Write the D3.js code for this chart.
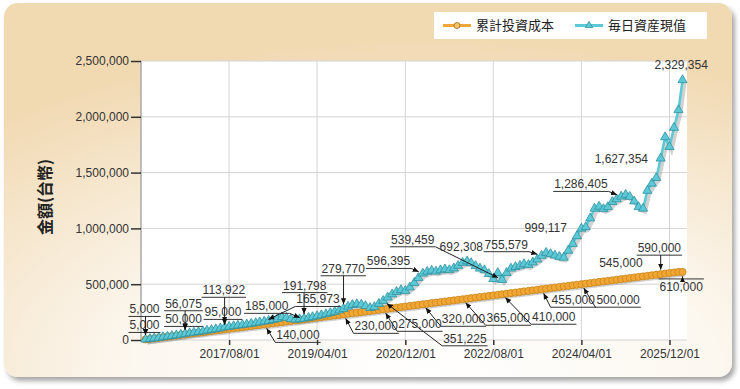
<!DOCTYPE html>
<html>
<head>
<meta charset="utf-8">
<script src="https://cdn.jsdelivr.net/npm/d3@7"></script>
<style>
body { margin: 0; background: #fff; }
svg { display: block; font-family: "Liberation Sans", Arial, sans-serif; }
</style>
</head>
<body>
<div id="chart"></div>
<script>
const seriesNames = ["累計投資成本", "毎日資産現值"];
const yTitle = "金額(台幣)";

// one point per month, first and last month of the record
const firstMonth = "2016-01-01";
const lastMonth = "2026-03-01";

const costValues = [
    5000, 10000, 15000, 20000, 25000, 30000, 35000, 40000, 45000, 50000,
    55000, 60000, 65000, 70000, 75000, 80000, 85000, 90000, 95000, 100000,
    105000, 110000, 115000, 120000, 125000, 130000, 135000, 140000, 145000, 150000,
    155000, 160000, 165000, 170000, 175000, 180000, 185000, 190000, 195000, 200000,
    205000, 210000, 215000, 220000, 225000, 230000, 235000, 240000, 245000, 250000,
    255000, 260000, 265000, 270000, 275000, 280000, 285000, 290000, 295000, 300000,
    305000, 310000, 315000, 320000, 325000, 330000, 335000, 340000, 345000, 350000,
    355000, 360000, 365000, 370000, 375000, 380000, 385000, 390000, 395000, 400000,
    405000, 410000, 415000, 420000, 425000, 430000, 435000, 440000, 445000, 450000,
    455000, 460000, 465000, 470000, 475000, 480000, 485000, 490000, 495000, 500000,
    505000, 510000, 515000, 520000, 525000, 530000, 535000, 540000, 545000, 550000,
    555000, 560000, 565000, 570000, 575000, 580000, 585000, 590000, 595000, 600000,
    605000, 610000, 610000
];

const assetValues = [
    5000, 10100, 15300, 20700, 26000, 31500, 36800, 42500, 49000, 56075,
    61500, 67200, 72800, 78500, 84600, 90800, 97500, 105000, 113922, 119500,
    125000, 130500, 135000, 140500, 146500, 152500, 159000, 165973, 172000, 180000,
    190000, 205000, 200000, 188000, 182000, 187000, 191798, 199000, 206000, 214000,
    223000, 232000, 242000, 253000, 266000, 279770, 300000, 315000, 322000, 318000,
    305000, 288000, 296000, 325000, 351225, 382000, 410000, 432000, 448000, 441000,
    472000, 512000, 556000, 596395, 612000, 622000, 614000, 626000, 634000, 627000,
    642000, 666000, 692308, 706000, 690000, 664000, 641000, 626000, 592000, 547000,
    601000, 539459, 602000, 641000, 655000, 666000, 681000, 674000, 696000, 722000,
    755579, 782000, 771000, 758000, 746000, 739000, 801000, 862000, 931000, 999117,
    1012000, 1091000, 1178000, 1196000, 1174000, 1192000, 1238000, 1262000, 1286405, 1302000,
    1284000, 1243000, 1192000, 1178000, 1338000, 1402000, 1452000, 1627354, 1818000, 1731000,
    1902000, 2061000, 2329354
];

const xTickLabels = ["2017/08/01", "2019/04/01", "2020/12/01", "2022/08/01", "2024/04/01", "2025/12/01"];
const yTickValues = [0, 500000, 1000000, 1500000, 2000000, 2500000];

// points that carry a value label
const labelIdx = [0, 9, 18, 27, 36, 45, 54, 63, 72, 81, 90, 99, 108, 117, 122];

// label placement: [dx, dy, leader] relative to the point (text left / baseline)
const costLabelPos = [
    [-16, -10, "auto"], [-20, -11, "auto"], [-20, -13, "auto"], [12, 15, "auto"],
    [-59, -9, "auto"], [11, 16, "auto"], [15, 19, "auto"], [19, 19, "auto"],
    [24, 23, "auto"], [30, 27, "auto"], [10, 15, "auto"], [15, 20, "auto"],
    [-22, -12, "none"], [-23, -22, "auto"], [-23, 19, "over"]
];
const assetLabelPos = [
    [-16, -26, "auto"], [-20, -26, "auto"], [-22, -33, "auto"], [32, -18, "auto"],
    [-21, -29, "auto"], [-22, -36, "auto"], [60, 42, "auto"], [-56, -8, "auto"],
    [-23, -12, "none"], [-111, -36, "auto"], [-57, -7, "auto"], [-57, 4, "none"],
    [-67, -8, "auto"], [-66, 5, "none"], [-28, -11, "none"]
];

const cfg = {
    width: 740,
    height: 389,
    left: 141, right: 687, top: 61, bottom: 340,
    costColor: "#f2a633",
    costStroke: "#c7861f",
    assetColor: "#5cc9d6",
    assetStroke: "#2f8f9e"
};

const parse = d3.timeParse("%Y-%m-%d");
const t0 = parse(firstMonth);
const nPts = d3.timeMonth.count(t0, parse(lastMonth)) + 1;
const dates = d3.range(nPts).map(i => d3.timeMonth.offset(t0, i));

const costData = dates.map((d, i) => ({date: d, v: costValues[i]}));
const assetData = dates.map((d, i) => ({date: d, v: assetValues[i]}));

const svg = d3.select("#chart").append("svg")
    .attr("width", cfg.width)
    .attr("height", cfg.height);

const defs = svg.append("defs");

const bg = defs.append("radialGradient").attr("id", "panelBg")
    .attr("cx", 0.58).attr("cy", 1.0).attr("r", 0.9);
bg.append("stop").attr("offset", "0%").attr("stop-color", "#ffffff");
bg.append("stop").attr("offset", "45%").attr("stop-color", "#fcf7ef");
bg.append("stop").attr("offset", "100%").attr("stop-color", "#f1d9b2");

const shadow = defs.append("filter").attr("id", "panelShadow")
    .attr("x", "-5%").attr("y", "-5%").attr("width", "110%").attr("height", "115%");
shadow.append("feGaussianBlur").attr("in", "SourceAlpha").attr("stdDeviation", 2.5);
shadow.append("feOffset").attr("dx", 3).attr("dy", 4).attr("result", "off");
shadow.append("feComponentTransfer").append("feFuncA").attr("type", "linear").attr("slope", 0.35);
const merge = shadow.append("feMerge");
merge.append("feMergeNode");
merge.append("feMergeNode").attr("in", "SourceGraphic");

defs.append("marker").attr("id", "arrow")
    .attr("viewBox", "0 0 8 8")
    .attr("refX", 8).attr("refY", 4)
    .attr("markerWidth", 6).attr("markerHeight", 6)
    .attr("orient", "auto")
    .append("path").attr("d", "M0,0.5 L8,4 L0,7.5 Z").attr("fill", "#111");

// panel
svg.append("rect")
    .attr("x", 4).attr("y", 3)
    .attr("width", 728).attr("height", 374)
    .attr("rx", 14)
    .attr("fill", "url(#panelBg)")
    .attr("filter", "url(#panelShadow)");

// scales
const x = d3.scaleTime()
    .domain([parse("2015-12-01"), parse("2026-04-01")])
    .range([cfg.left, cfg.right]);
const y = d3.scaleLinear()
    .domain([0, 2500000])
    .range([cfg.bottom, cfg.top]);
const tickDates = xTickLabels.map(d3.timeParse("%Y/%m/%d"));

// plot background + grid
svg.append("rect")
    .attr("x", cfg.left).attr("y", cfg.top)
    .attr("width", cfg.right - cfg.left).attr("height", cfg.bottom - cfg.top)
    .attr("fill", "#fff");

const grid = svg.append("g");
grid.selectAll(".hg").data(yTickValues).enter().append("line")
    .attr("x1", cfg.left).attr("x2", cfg.right)
    .attr("y1", d => y(d)).attr("y2", d => y(d))
    .attr("stroke", "#d4d4d4").attr("stroke-width", 1);
grid.selectAll(".vg").data(tickDates).enter().append("line")
    .attr("x1", d => x(d)).attr("x2", d => x(d))
    .attr("y1", cfg.top).attr("y2", cfg.bottom)
    .attr("stroke", "#d4d4d4").attr("stroke-width", 1);
grid.append("line")
    .attr("x1", cfg.left).attr("x2", cfg.left)
    .attr("y1", cfg.top).attr("y2", cfg.bottom)
    .attr("stroke", "#a8a8a8").attr("stroke-width", 1.5);

// axes
const yAxis = svg.append("g")
    .attr("transform", "translate(" + cfg.left + ",0)")
    .call(d3.axisLeft(y).tickValues(yTickValues).tickFormat(d3.format(",")).tickSize(10).tickPadding(2));
const xAxis = svg.append("g")
    .attr("transform", "translate(0," + cfg.bottom + ")")
    .call(d3.axisBottom(x).tickValues(tickDates).tickFormat(d3.timeFormat("%Y/%m/%d")).tickSize(5).tickPadding(4));
[yAxis, xAxis].forEach(a => {
    a.select(".domain").remove();
    a.selectAll(".tick line").attr("stroke", "#333").attr("stroke-width", 1.5);
    a.selectAll(".tick text")
        .attr("fill", "#333")
        .style("font-size", "12px")
        .style("font-family", "'Liberation Sans', Arial, sans-serif");
});

svg.append("text")
    .attr("transform", "translate(44,197) rotate(-90)")
    .attr("text-anchor", "middle")
    .attr("dominant-baseline", "central")
    .style("font-family", "'Noto Sans CJK TC', sans-serif")
    .style("font-size", "16px")
    .style("font-weight", "bold")
    .attr("fill", "#222")
    .text(yTitle);

// series
const line = d3.line().x(d => x(d.date)).y(d => y(d.v));
const plot = svg.append("g");

[costData, assetData].forEach(data => {
    plot.append("path").datum(data)
        .attr("d", line)
        .attr("transform", "translate(2,3)")
        .attr("fill", "none")
        .attr("stroke", "#9a9a9a").attr("stroke-opacity", 0.45)
        .attr("stroke-width", 4);
});

plot.append("path").datum(costData)
    .attr("d", line)
    .attr("fill", "none")
    .attr("stroke", cfg.costColor)
    .attr("stroke-width", 2.5);
plot.selectAll(".cost-pt").data(costData).enter().append("circle")
    .attr("cx", d => x(d.date)).attr("cy", d => y(d.v))
    .attr("r", 3.6)
    .attr("fill", cfg.costColor)
    .attr("stroke", cfg.costStroke).attr("stroke-width", 0.8);

plot.append("path").datum(assetData)
    .attr("d", line)
    .attr("fill", "none")
    .attr("stroke", cfg.assetColor)
    .attr("stroke-width", 2.5);
const tri = d3.symbol(d3.symbolTriangle, 36);
plot.selectAll(".asset-pt").data(assetData).enter().append("path")
    .attr("d", tri)
    .attr("transform", d => "translate(" + x(d.date) + "," + y(d.v) + ")")
    .attr("fill", cfg.assetColor)
    .attr("stroke", cfg.assetStroke).attr("stroke-width", 0.8);

// value labels with leaders
const fmt = d3.format(",");
const labels = svg.append("g");

function drawLabels(data, pos) {
    labelIdx.forEach((idx, k) => {
        const d = data[idx];
        const px = x(d.date), py = y(d.v);
        const [dx, dy, kind] = pos[k];
        const tx = px + dx, ty = py + dy;
        const t = labels.append("text")
            .attr("x", tx).attr("y", ty)
            .attr("fill", "#333")
            .style("font-size", "12px")
            .text(fmt(d.v));
        if (kind === "none") return;
        const w = t.node().getComputedTextLength();
        const l = tx - 1, r = tx + w + 1;
        const ly = kind === "over" ? ty - 12 : ty + 3;
        labels.append("line")
            .attr("x1", l).attr("x2", r).attr("y1", ly).attr("y2", ly)
            .attr("stroke", "#333").attr("stroke-width", 1);
        const sx = Math.max(l, Math.min(r, px));
        const vx = px - sx, vy = py - ly;
        const len = Math.sqrt(vx * vx + vy * vy);
        if (len < 6) return;
        const ex = px - vx / len * 4.5, ey = py - vy / len * 4.5;
        labels.append("line")
            .attr("x1", sx).attr("y1", ly).attr("x2", ex).attr("y2", ey)
            .attr("stroke", "#222").attr("stroke-width", 1)
            .attr("marker-end", "url(#arrow)");
    });
}
drawLabels(costData, costLabelPos);
drawLabels(assetData, assetLabelPos);

// legend
const legend = svg.append("g");
legend.append("rect")
    .attr("x", 434).attr("y", 12).attr("width", 273).attr("height", 27)
    .attr("fill", "#fff");
const legendItems = [
    {name: seriesNames[0], color: cfg.costColor, stroke: cfg.costStroke, x: 443, shape: "circle"},
    {name: seriesNames[1], color: cfg.assetColor, stroke: cfg.assetStroke, x: 575, shape: "tri"}
];
legendItems.forEach(it => {
    legend.append("line")
        .attr("x1", it.x).attr("x2", it.x + 28).attr("y1", 25.5).attr("y2", 25.5)
        .attr("stroke", it.color).attr("stroke-width", 3);
    if (it.shape === "circle") {
        legend.append("circle").attr("cx", it.x + 14).attr("cy", 25.5).attr("r", 3)
            .attr("fill", "#f7c46c").attr("stroke", "#9a6a1a").attr("stroke-width", 0.8);
    } else {
        legend.append("path").attr("d", d3.symbol(d3.symbolTriangle, 22))
            .attr("transform", "translate(" + (it.x + 14) + ",25.5)")
            .attr("fill", it.color).attr("stroke", it.stroke).attr("stroke-width", 0.8);
    }
    legend.append("text")
        .attr("x", it.x + 33).attr("y", 30)
        .style("font-family", "'Noto Sans CJK TC', sans-serif")
        .style("font-size", "13px")
        .attr("fill", "#222")
        .text(it.name);
});
</script>
</body>
</html>
